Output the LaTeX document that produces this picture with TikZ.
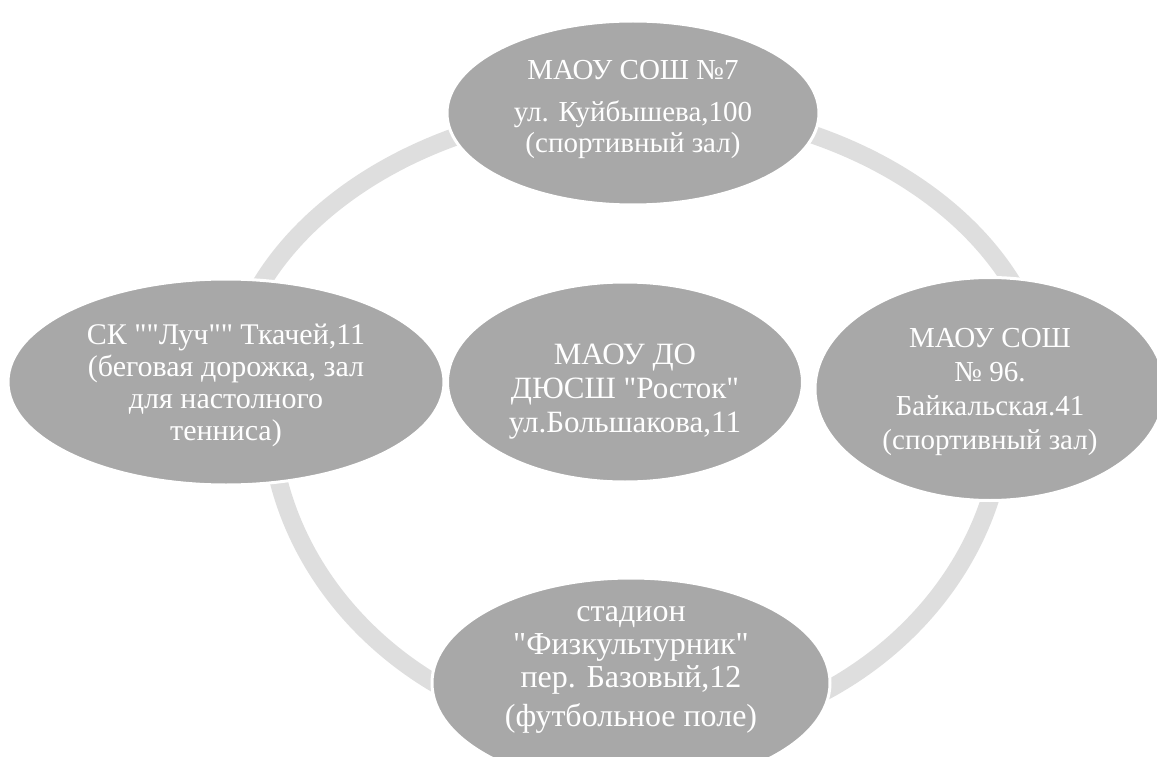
\documentclass[tikz,border=0pt]{standalone}
\usepackage{fontspec}
\setmainfont{Liberation Serif}[Ligatures=TeXOff]
\usetikzlibrary{shapes.geometric}
\definecolor{ringgray}{RGB}{222,222,222}
\definecolor{blobgray}{RGB}{168,168,168}
\begin{document}
\begin{tikzpicture}[x=1pt,y=-1pt,
  ring/.style={ringgray,line width=18pt},
  blob/.style={ellipse,fill=blobgray,draw=white,line width=3pt,inner sep=0pt},
  txt/.style={text=white,align=center,inner sep=0pt}]
\useasboundingbox (0,0) rectangle (1157,757);
\draw [ring] (1048,405) arc [start angle=0,end angle=-180,x radius=411,y radius=299];
\draw [ring] (269,405) arc [start angle=180,end angle=0,x radius=368,y radius=333];
\node [blob,minimum width=372pt,minimum height=184pt] (school7) at (633,113) {};
\node [blob,minimum width=436pt,minimum height=206pt] (luch) at (226,382) {};
\node [blob,minimum width=355pt,minimum height=200pt] (rostok) at (625,382) {};
\node [blob,minimum width=350pt,minimum height=223pt] (school96) at (990,389) {};
\node [blob,minimum width=398pt,minimum height=210pt] (stadium) at (631,683) {};
\node [txt,font=\fontsize{29}{31}\selectfont] (school7text) at (633,109) {МАОУ СОШ №7\\[11pt]ул. Куйбышева,100\\(спортивный зал)};
\node [txt,font=\fontsize{30}{32}\selectfont] (luchtext) at (226,385) {СК ""Луч"" Ткачей,11\\(беговая дорожка, зал\\для настолного\\тенниса)};
\node [txt,font=\fontsize{31}{34}\selectfont] (rostoktext) at (625,392) {МАОУ ДО\\ДЮСШ "Росток"\\ул.Большакова,11};
\node [txt,font=\fontsize{29}{34}\selectfont] (school96text) at (990,392) {МАОУ СОШ\\№ 96.\\Байкальская.41\\(спортивный зал)};
\node [txt,font=\fontsize{32}{33}\selectfont] (stadiumtext) at (631,670) {стадион\\"Физкультурник"\\пер. Базовый,12\\[6pt](футбольное поле)};
\end{tikzpicture}
\end{document}
